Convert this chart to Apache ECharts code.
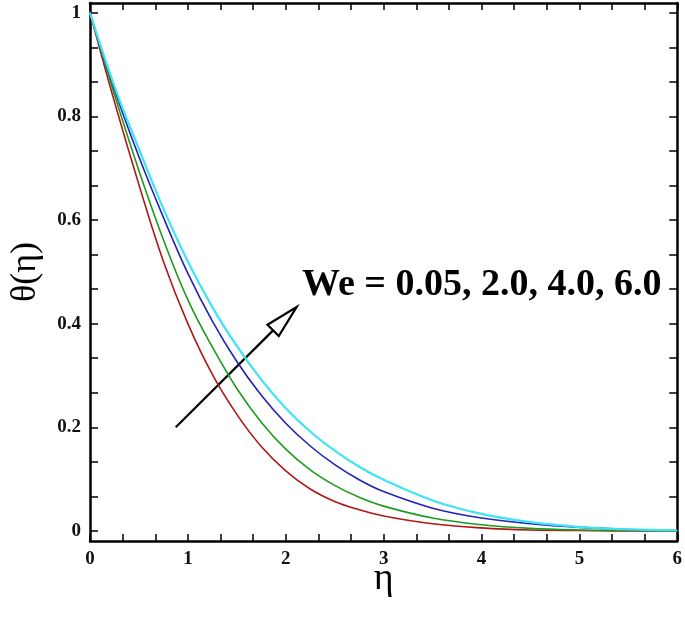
<!DOCTYPE html>
<html>
<head>
<meta charset="utf-8">
<script src="https://cdn.jsdelivr.net/npm/echarts@6/dist/echarts.min.js"></script>
<style>
  html, body { margin: 0; padding: 0; background: #fff; }
  #chart { width: 685px; height: 617px; }
</style>
</head>
<body>
<div id="chart"></div>
<script>
// eta grid shared by every curve
const eta = [0, 0.25, 0.5, 0.75, 1, 1.25, 1.5, 1.75, 2, 2.25, 2.5, 2.75, 3, 3.5, 4, 4.5, 5, 5.5, 6];

// theta(eta) for We = 0.05, 2.0, 4.0, 6.0
const thetaWe005 = [1, 0.828, 0.668, 0.520, 0.400, 0.302, 0.225, 0.163, 0.116, 0.081, 0.057, 0.041, 0.029, 0.014, 0.006, 0.002, 0.001, 0, 0];
const thetaWe2 = [1, 0.842, 0.695, 0.562, 0.446, 0.355, 0.275, 0.210, 0.158, 0.118, 0.088, 0.065, 0.048, 0.025, 0.012, 0.005, 0.002, 0.001, 0];
const thetaWe4 = [1, 0.852, 0.722, 0.605, 0.497, 0.405, 0.327, 0.262, 0.208, 0.164, 0.128, 0.099, 0.076, 0.044, 0.025, 0.014, 0.007, 0.003, 0.001];
const thetaWe6 = [1, 0.858, 0.737, 0.622, 0.520, 0.432, 0.357, 0.292, 0.237, 0.192, 0.155, 0.124, 0.099, 0.059, 0.033, 0.017, 0.008, 0.003, 0.001];

// ticks
const yLabelTicks = [0, 0.2, 0.4, 0.6, 0.8, 1];
const yAllTicks = [0, 0.0667, 0.1333, 0.2, 0.2667, 0.3333, 0.4, 0.4667, 0.5333, 0.6, 0.6667, 0.7333, 0.8, 0.8667, 0.9333, 1];

const serif = "'Liberation Serif', 'DejaVu Serif', serif";

function pairs(ys) {
  return eta.map((x, i) => [x, ys[i]]);
}

let my_chart = echarts.init(document.getElementById("chart"));

const xAxisBase = {
  type: "value",
  min: 0,
  max: 6,
  interval: 1,
  axisLine: { show: true, onZero: false, lineStyle: { color: "#000", width: 2.5 } },
  axisTick: { show: true, inside: true, length: 7, lineStyle: { color: "#000", width: 1.5 } },
  minorTick: { show: true, splitNumber: 3, length: 7, lineStyle: { color: "#000", width: 1.5 } },
  splitLine: { show: false },
  minorSplitLine: { show: false },
};

const yAxisBase = {
  type: "value",
  min: -0.0193,
  max: 1.0187,
  axisLine: { show: true, onZero: false, lineStyle: { color: "#000", width: 2.5 } },
  axisTick: { show: true, inside: true, length: 8, customValues: yAllTicks, lineStyle: { color: "#000", width: 1.5 } },
  splitLine: { show: false },
};

my_chart.setOption({
  animation: false,
  backgroundColor: "#fff",
  grid: {
    left: 89,
    right: 7,
    top: 3,
    bottom: 76,
    containLabel: false,
  },
  xAxis: [
    Object.assign({}, xAxisBase, {
      position: "bottom",
      name: "η",
      nameLocation: "middle",
      nameGap: 19,
      nameMoveOverlap: false,
      nameTextStyle: { fontFamily: serif, fontSize: 38, color: "#000", verticalAlign: "top" },
      axisLabel: { fontFamily: serif, fontWeight: "bold", fontSize: 19, color: "#111", margin: 9 },
    }),
    Object.assign({}, xAxisBase, {
      position: "top",
      axisLabel: { show: false },
    }),
  ],
  yAxis: [
    Object.assign({}, yAxisBase, {
      position: "left",
      name: "θ(η)",
      nameLocation: "middle",
      nameRotate: 90,
      nameGap: 46,
      nameTextStyle: { fontFamily: serif, fontSize: 36, color: "#000" },
      axisLabel: {
        customValues: yLabelTicks,
        fontFamily: serif,
        fontWeight: "bold",
        fontSize: 19,
        color: "#111",
        margin: 9,
      },
    }),
    Object.assign({}, yAxisBase, {
      position: "right",
      axisLabel: { show: false },
    }),
  ],
  series: [
    { name: "We = 0.05", type: "line", data: pairs(thetaWe005), smooth: 0.4, showSymbol: false, lineStyle: { color: "#b01818", width: 1.6 } },
    { name: "We = 2.0", type: "line", data: pairs(thetaWe2), smooth: 0.4, showSymbol: false, lineStyle: { color: "#1c9c1c", width: 1.6 } },
    { name: "We = 4.0", type: "line", data: pairs(thetaWe4), smooth: 0.4, showSymbol: false, lineStyle: { color: "#2222b8", width: 1.6 } },
    { name: "We = 6.0", type: "line", data: pairs(thetaWe6), smooth: 0.4, showSymbol: false, lineStyle: { color: "#3ee4f2", width: 2.2 } },
  ],
});

// annotation arrow, anchored in data space
const p0 = my_chart.convertToPixel({ gridIndex: 0 }, [0.876, 0.2]);
const tip = my_chart.convertToPixel({ gridIndex: 0 }, [2.11, 0.432]);
const dx = tip[0] - p0[0], dy = tip[1] - p0[1];
const len = Math.sqrt(dx * dx + dy * dy);
const ux = dx / len, uy = dy / len;
const headLen = 33, headHalf = 8;
const base = [tip[0] - ux * headLen, tip[1] - uy * headLen];
const c1 = [base[0] - uy * headHalf, base[1] + ux * headHalf];
const c2 = [base[0] + uy * headHalf, base[1] - ux * headHalf];

my_chart.setOption({
  graphic: [
    {
      type: "line",
      shape: { x1: p0[0], y1: p0[1], x2: base[0], y2: base[1] },
      style: { stroke: "#000", lineWidth: 2.2 },
    },
    {
      type: "polygon",
      shape: { points: [tip, c1, c2] },
      style: { fill: "#fff", stroke: "#000", lineWidth: 2.2 },
    },
    {
      type: "text",
      left: 302,
      top: 266,
      style: {
        text: "We = 0.05, 2.0, 4.0, 6.0",
        font: "bold 38px " + serif,
        fill: "#000",
      },
    },
  ],
});
</script>
</body>
</html>
